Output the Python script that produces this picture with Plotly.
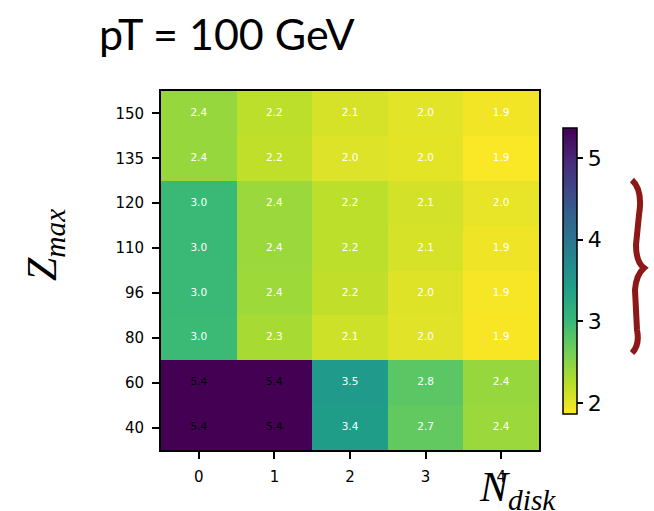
import plotly.graph_objects as go

# Data (rows from bottom Zmax=40 to top Zmax=150)
n_disk = [0, 1, 2, 3, 4]
z_max_labels = ["40", "60", "80", "96", "110", "120", "135", "150"]
row_40 = [5.37, 5.37, 3.43, 2.73, 2.40]
row_60 = [5.37, 5.37, 3.48, 2.78, 2.42]
row_80 = [2.99, 2.33, 2.12, 2.02, 1.89]
row_96 = [3.00, 2.38, 2.19, 2.03, 1.90]
row_110 = [3.00, 2.40, 2.22, 2.08, 1.94]
row_120 = [3.00, 2.40, 2.22, 2.09, 1.98]
row_135 = [2.42, 2.20, 2.04, 2.00, 1.88]
row_150 = [2.42, 2.22, 2.08, 2.01, 1.93]
z = [row_40, row_60, row_80, row_96, row_110, row_120, row_135, row_150]
colorbar_ticks = [2, 3, 4, 5]
title_text = "pT = 100 GeV"

W, H = 654, 511
L, R, T, B = 161, 115, 91, 61
PW, PH = W - L - R, H - T - B


def px(x):
    return (x - L) / PW


def py(y):
    return (H - B - y) / PH


zmin, zmax = 1.865, 5.37
y_idx = list(range(len(z_max_labels)))

fig = go.Figure()
fig.add_trace(go.Heatmap(
    x=n_disk, y=y_idx, z=z,
    zmin=zmin, zmax=zmax,
    colorscale="Viridis_r",
    hoverinfo="skip",
    colorbar=dict(
        x=px(563), xanchor="left", xref="paper",
        y=py(271), yanchor="middle", yref="paper",
        len=(414 - 128) / PH, lenmode="fraction",
        thickness=14, thicknessmode="pixels",
        outlinewidth=1.5, outlinecolor="black",
        tickvals=colorbar_ticks, ticks="outside", ticklen=6,
        tickwidth=1.5, tickcolor="black",
        tickfont=dict(family="DejaVu Sans", size=22, color="black"),
        xpad=0, ypad=0,
    ),
))

tx, ty, tt, tc = [], [], [], []
for j, row in enumerate(z):
    for i, v in enumerate(row):
        tx.append(n_disk[i])
        ty.append(y_idx[j])
        tt.append(f"{v:.1f}")
        tc.append("black" if v >= 5.0 else "white")

fig.add_trace(go.Scatter(
    x=tx, y=ty, text=tt, mode="text",
    textfont=dict(family="DejaVu Sans", size=10.5, color=tc),
    hoverinfo="skip", showlegend=False,
))

axis_common = dict(
    showgrid=False, zeroline=False, showline=True, linecolor="black",
    linewidth=1.8, mirror=True, ticks="outside", ticklen=7, tickwidth=1.5,
    tickcolor="black", tickfont=dict(family="DejaVu Sans", size=15, color="black"),
    ticklabelstandoff=5,
)
fig.update_xaxes(range=[-0.5, 4.5], tickvals=n_disk, **axis_common)
fig.update_yaxes(range=[-0.5, 7.5], tickvals=y_idx, ticktext=z_max_labels, **axis_common)

# brace (pixel coordinates converted to paper)
pts = [(632, 180), (643, 190), (639, 215), (636, 245), (636, 262), (644, 268),
       (636, 275), (635, 290), (637, 330), (640, 345), (632, 353)]
p = [(px(a), py(b)) for a, b in pts]
path = (f"M {p[0][0]},{p[0][1]} Q {p[1][0]},{p[1][1]} {p[2][0]},{p[2][1]} "
        f"L {p[3][0]},{p[3][1]} Q {p[4][0]},{p[4][1]} {p[5][0]},{p[5][1]} "
        f"Q {p[6][0]},{p[6][1]} {p[7][0]},{p[7][1]} "
        f"L {p[8][0]},{p[8][1]} Q {p[9][0]},{p[9][1]} {p[10][0]},{p[10][1]}")
fig.add_shape(type="path", path=path, xref="paper", yref="paper",
              line=dict(color="rgb(140,24,24)", width=6))

fig.add_annotation(text=title_text, xref="paper", yref="paper",
                   x=px(97), y=py(34), xanchor="left", yanchor="middle",
                   showarrow=False,
                   font=dict(family="Lato", size=43, color="black"))
fig.add_annotation(text="<i>Z</i><sub><i>max</i></sub>", xref="paper", yref="paper",
                   x=px(45), y=py(245), xanchor="center", yanchor="middle",
                   textangle=-90, showarrow=False,
                   font=dict(family="Liberation Serif", size=42, color="black"))
fig.add_annotation(text="<i>N</i><sub><i>disk</i></sub>", xref="paper", yref="paper",
                   x=px(517), y=py(490), xanchor="center", yanchor="middle",
                   showarrow=False,
                   font=dict(family="Liberation Serif", size=42, color="black"))

fig.update_layout(
    width=W, height=H,
    margin=dict(l=L, r=R, t=T, b=B),
    paper_bgcolor="white", plot_bgcolor="white",
    showlegend=False,
)
fig.write_html("out.html", config={"displayModeBar": False},
               post_script="document.body.style.margin='0';document.body.style.overflow='hidden';")
